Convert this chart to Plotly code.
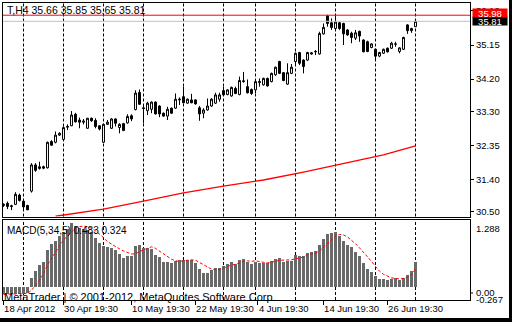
import plotly.graph_objects as go
from plotly.subplots import make_subplots

# ---------------- data ----------------
bar_index = list(range(104))
opens = [30.68, 30.74, 30.65, 30.71, 30.97, 30.80, 30.68, 31.08, 31.81, 31.71,
         31.76, 31.73, 32.46, 32.44, 32.64, 32.52, 32.86, 32.90, 33.22, 33.06,
         33.00, 32.83, 33.11, 33.05, 32.90, 32.44, 32.94, 32.83, 33.09, 32.85,
         32.96, 32.98, 33.18, 33.35, 33.83, 33.40, 33.32, 33.36, 33.56, 33.45,
         33.25, 33.17, 33.39, 33.39, 33.62, 33.71, 33.53, 33.62, 33.62, 33.40,
         33.25, 33.34, 33.45, 33.53, 33.64, 33.88, 33.77, 33.73, 33.94, 33.77,
         34.13, 33.99, 33.91, 33.90, 34.10, 34.04, 34.22, 34.13, 34.32, 34.69,
         34.38, 34.06, 34.36, 34.69, 34.94, 34.73, 34.73, 34.90, 34.96, 34.90,
         35.46, 35.96, 35.77, 35.61, 35.77, 35.75, 35.57, 35.48, 35.34, 35.53,
         35.29, 35.24, 35.08, 35.03, 34.84, 34.92, 35.06, 35.06, 35.17, 34.97,
         35.03, 35.71, 35.55, 35.66]
highs = [30.74, 30.79, 30.70, 31.05, 31.01, 30.84, 30.70, 31.86, 31.86, 31.90,
         31.79, 32.46, 32.50, 32.74, 32.72, 32.88, 32.94, 33.31, 33.26, 33.13,
         33.09, 33.12, 33.13, 33.11, 32.92, 32.96, 33.06, 33.11, 33.11, 32.97,
         32.98, 33.22, 33.22, 33.89, 33.91, 33.50, 33.57, 33.58, 33.58, 33.47,
         33.27, 33.43, 33.41, 33.80, 33.69, 33.99, 33.66, 33.79, 33.64, 33.45,
         33.39, 33.66, 33.67, 33.82, 33.82, 33.99, 33.92, 33.99, 33.99, 34.27,
         34.40, 34.19, 33.94, 34.16, 34.22, 34.24, 34.24, 34.38, 34.55, 34.71,
         34.40, 34.64, 34.62, 34.94, 34.96, 34.75, 34.96, 34.95, 35.01, 35.52,
         35.75, 35.99, 35.89, 36.01, 35.79, 35.77, 35.59, 35.52, 35.57, 35.55,
         35.31, 35.27, 35.20, 35.05, 34.96, 35.05, 35.08, 35.24, 35.24, 35.09,
         35.38, 35.73, 35.63, 35.85]
lows = [30.64, 30.58, 30.55, 30.69, 30.79, 30.58, 30.55, 31.04, 31.62, 31.68,
        31.69, 31.71, 32.34, 32.41, 32.62, 32.49, 32.78, 32.89, 32.99, 32.83,
        32.94, 32.82, 33.01, 32.83, 32.77, 32.42, 32.92, 32.81, 32.88, 32.69,
        32.75, 32.96, 33.03, 33.33, 33.48, 32.97, 33.20, 33.25, 33.22, 33.14,
        33.15, 33.06, 33.23, 33.37, 33.48, 33.53, 33.51, 33.53, 33.49, 33.04,
        33.11, 33.32, 33.43, 33.51, 33.57, 33.74, 33.75, 33.71, 33.78, 33.75,
        34.10, 33.80, 33.76, 33.80, 33.99, 34.02, 33.99, 34.11, 34.29, 34.34,
        34.14, 34.04, 34.34, 34.59, 34.59, 34.36, 34.71, 34.88, 34.87, 34.88,
        35.44, 35.66, 35.57, 35.59, 35.57, 35.15, 35.41, 35.20, 35.29, 35.24,
        34.95, 34.95, 35.06, 34.75, 34.81, 34.90, 34.94, 35.04, 35.10, 34.92,
        35.01, 35.46, 35.49, 35.65]
closes = [30.71, 30.65, 30.67, 30.99, 30.82, 30.64, 30.56, 31.81, 31.66, 31.76,
          31.72, 32.44, 32.36, 32.64, 32.69, 32.85, 32.88, 33.20, 33.01, 33.00,
          33.03, 33.11, 33.04, 32.88, 32.81, 32.94, 33.00, 33.09, 32.97, 32.94,
          32.77, 33.16, 33.09, 33.81, 33.50, 33.38, 33.53, 33.56, 33.23, 33.23,
          33.17, 33.36, 33.25, 33.64, 33.64, 33.54, 33.64, 33.54, 33.51, 33.23,
          33.34, 33.45, 33.64, 33.76, 33.76, 33.76, 33.90, 33.97, 33.80, 34.16,
          34.15, 33.82, 33.80, 34.13, 34.13, 34.22, 34.01, 34.36, 34.53, 34.36,
          34.16, 34.38, 34.53, 34.92, 34.64, 34.55, 34.94, 34.93, 34.97, 35.47,
          35.64, 35.75, 35.64, 35.79, 35.61, 35.46, 35.43, 35.36, 35.49, 35.40,
          34.96, 34.97, 35.18, 34.84, 34.94, 35.03, 34.96, 35.20, 35.18, 35.07,
          35.36, 35.55, 35.61, 35.81]

macd_main = [-0.14, -0.14, -0.15, -0.14, -0.14, -0.14, -0.13,
             0.16, 0.31, 0.42, 0.47, 0.70, 0.82, 0.89, 0.97, 1.06, 1.12, 1.23, 1.18, 1.14,
             1.12, 1.10, 1.05, 0.95, 0.84, 0.78, 0.76, 0.74, 0.70, 0.63,
             0.56, 0.60, 0.60, 0.78, 0.80, 0.74, 0.75, 0.72, 0.62, 0.58,
             0.47, 0.47, 0.45, 0.49, 0.52, 0.51, 0.51, 0.51, 0.45, 0.34,
             0.27, 0.27, 0.33, 0.37, 0.37, 0.39, 0.43, 0.47, 0.44, 0.52,
             0.54, 0.48, 0.43, 0.47, 0.45, 0.45, 0.45, 0.49, 0.54, 0.56,
             0.48, 0.49, 0.50, 0.62, 0.60, 0.60, 0.65, 0.67, 0.69, 0.81,
             0.93, 1.01, 1.03, 1.05, 0.98, 0.88, 0.80, 0.76, 0.67, 0.60,
             0.45, 0.35, 0.29, 0.21, 0.15, 0.15, 0.13, 0.15, 0.16, 0.13,
             0.16, 0.22, 0.31, 0.483]
macd_signal = [-0.16, -0.16, -0.15, -0.15, -0.14, -0.14, -0.14,
               -0.08, 0.01, 0.12, 0.24, 0.41, 0.54, 0.66, 0.77, 0.89, 0.97, 1.05, 1.12, 1.15,
               1.16, 1.15, 1.12, 1.07, 1.01, 0.94, 0.86, 0.81, 0.76, 0.72,
               0.68, 0.65, 0.62, 0.63, 0.67, 0.70, 0.73, 0.76, 0.73, 0.68,
               0.63, 0.57, 0.52, 0.49, 0.48, 0.49, 0.50, 0.51, 0.50, 0.46,
               0.42, 0.37, 0.33, 0.32, 0.32, 0.35, 0.38, 0.41, 0.42, 0.45,
               0.48, 0.49, 0.48, 0.49, 0.47, 0.46, 0.45, 0.46, 0.48, 0.50,
               0.50, 0.51, 0.51, 0.53, 0.54, 0.56, 0.61, 0.63, 0.64, 0.68,
               0.75, 0.82, 0.89, 0.97, 1.00, 0.99, 0.95, 0.89, 0.82, 0.74,
               0.66, 0.58, 0.48, 0.38, 0.29, 0.23, 0.19, 0.16, 0.15, 0.14,
               0.15, 0.17, 0.22, 0.324]

ma_bars = [13, 25, 35, 45, 55, 65, 75, 85, 95, 103]
ma_values = [30.38, 30.58, 30.80, 31.03, 31.22, 31.39, 31.61, 31.84, 32.09, 32.34]

grid_bars = [5, 15, 25, 35, 45, 55, 63, 73, 83, 93, 103]
date_ticks = [-0.1, 14.9, 31.9, 47.9, 63.6, 79.9, 95.9]
date_labels = ["18 Apr 2012", "30 Apr 19:30", "10 May 19:30", "22 May 19:30",
               "4 Jun 19:30", "14 Jun 19:30", "26 Jun 19:30"]
price_ticks = [30.50, 31.40, 32.35, 33.30, 34.20, 35.15, 36.10]
price_labels = ["30.50", "31.40", "32.35", "33.30", "34.20", "35.15", "36.10"]
ask_level = 35.98
bid_level = 35.81
macd_scale_labels = ["1.288", "0.00", "-0.267"]
chart_title = "T,H4 35.66 35.85 35.65 35.81"
macd_title = "MACD(5,34,5) 0.483 0.324"
watermark = "MetaTrader | \u00a9 2001-2012, MetaQuotes Software Corp."

# ---------------- layout constants (pixels) ----------------
W, H = 512, 322
L, R, T, B = 3, 42, 3, 22
PW = W - L - R          # 467
PH = H - T - B          # 297
def py(p):              # pixel y -> paper y
    return (H - B - p) / PH
def px(p):              # pixel x -> paper x
    return (p - L) / PW

FONT = "Liberation Sans"

fig = make_subplots(rows=2, cols=1, shared_xaxes=True, vertical_spacing=0.01)

fig.add_trace(go.Candlestick(
    x=bar_index, open=opens, high=highs, low=lows, close=closes,
    increasing=dict(line=dict(color="black", width=1), fillcolor="white"),
    decreasing=dict(line=dict(color="black", width=1), fillcolor="black"),
    whiskerwidth=0, hoverinfo="skip"), row=1, col=1)

fig.add_trace(go.Scatter(x=ma_bars, y=ma_values, mode="lines",
                         line=dict(color="#ff0000", width=1.3), hoverinfo="skip"),
              row=1, col=1)

fig.add_trace(go.Bar(x=bar_index, y=macd_main, width=0.75,
                     marker=dict(color="#696969", line=dict(width=0)), hoverinfo="skip"),
              row=2, col=1)

fig.add_trace(go.Scatter(x=bar_index, y=macd_signal, mode="lines",
                         line=dict(color="#ff0000", width=1, dash="3px,2px"), hoverinfo="skip"),
              row=2, col=1)

xr = [-0.125, -0.125 + PW / 4.0]
axis_common = dict(showgrid=False, zeroline=False, showline=True, mirror=True,
                   linecolor="black", linewidth=1)

fig.update_layout(
    width=W, height=H,
    margin=dict(l=L, r=R, t=T, b=B, pad=0),
    paper_bgcolor="white", plot_bgcolor="white",
    showlegend=False, hovermode=False,
    font=dict(family=FONT, size=9.5, color="black"),
    xaxis=dict(range=xr, ticks="", showticklabels=False,
               rangeslider=dict(visible=False), **axis_common),
    xaxis2=dict(range=xr, tickvals=date_ticks, ticktext=date_labels,
                ticks="outside", ticklen=4, tickcolor="black", tickangle=0,
                ticklabelposition="outside right",
                tickfont=dict(family=FONT, size=9.5, color="black"), **axis_common),
    yaxis=dict(domain=[py(216.5), 1.0], range=[30.373, 36.320], side="right",
               tickvals=price_ticks, ticktext=price_labels,
               ticks="outside", ticklen=3, tickcolor="black",
               tickfont=dict(family=FONT, size=9.5, color="black"), **axis_common),
    yaxis2=dict(domain=[0.0, py(219.5)], range=[-0.267, 1.288], side="right",
                showticklabels=False, ticks="", **axis_common),
    bargap=0,
)

shapes = []
for g in grid_bars:
    for yr in ("y domain", "y2 domain"):
        shapes.append(dict(type="line", xref="x", yref=yr, x0=g, x1=g, y0=0, y1=1,
                           line=dict(color="black", width=1, dash="3px,2px"), layer="below"))
# bid / ask lines
shapes.append(dict(type="line", xref="x domain", yref="y", x0=0, x1=1, y0=bid_level, y1=bid_level,
                   line=dict(color="#c0c0c0", width=1)))
shapes.append(dict(type="line", xref="x domain", yref="y", x0=0, x1=1, y0=ask_level, y1=ask_level,
                   line=dict(color="#ff0000", width=1)))
# tick mark for MACD 0.00 label
shapes.append(dict(type="line", xref="paper", yref="paper", x0=1, x1=px(473), y0=py(293), y1=py(293),
                   line=dict(color="black", width=1)))
# black window frame (right and bottom)
shapes.append(dict(type="rect", xref="paper", yref="paper", x0=px(509), x1=px(520),
                   y0=py(330), y1=py(-10), fillcolor="black", line=dict(width=0)))
shapes.append(dict(type="rect", xref="paper", yref="paper", x0=px(-5), x1=px(520),
                   y0=py(330), y1=py(318), fillcolor="black", line=dict(width=0)))
fig.update_layout(shapes=shapes)

ann = []
ann.append(dict(xref="paper", yref="paper", x=px(4.5), y=py(10), text=chart_title,
                showarrow=False, xanchor="left", yanchor="middle",
                font=dict(family=FONT, size=10.5, color="black")))
ann.append(dict(xref="paper", yref="paper", x=px(4.5), y=py(230), text=macd_title,
                showarrow=False, xanchor="left", yanchor="middle",
                font=dict(family=FONT, size=10, color="black")))
ann.append(dict(xref="paper", yref="paper", x=px(2), y=py(296.5), text=watermark,
                showarrow=False, xanchor="left", yanchor="middle",
                font=dict(family=FONT, size=11, color="black")))
# MACD scale labels
for lab, ypix in zip(macd_scale_labels, [228, 292, 299]):
    ann.append(dict(xref="paper", yref="paper", x=px(473.5), y=py(ypix), text=lab,
                    showarrow=False, xanchor="left", yanchor="middle",
                    font=dict(family=FONT, size=9.5, color="black")))
# price boxes on the axis
ann.append(dict(xref="paper", yref="y", x=px(472), y=bid_level, text="35.81",
                showarrow=False, xanchor="left", yanchor="middle", width=34, height=8,
                bgcolor="black", borderpad=0,
                font=dict(family=FONT, size=9.5, color="white")))
ann.append(dict(xref="paper", yref="y", x=px(472), y=ask_level, yshift=2, text="35.98",
                showarrow=False, xanchor="left", yanchor="middle", width=34, height=8,
                bgcolor="#ff0000", borderpad=0,
                font=dict(family=FONT, size=9.5, color="white")))
fig.update_layout(annotations=ann)

fig.write_html("out.html", config={"displayModeBar": False})
